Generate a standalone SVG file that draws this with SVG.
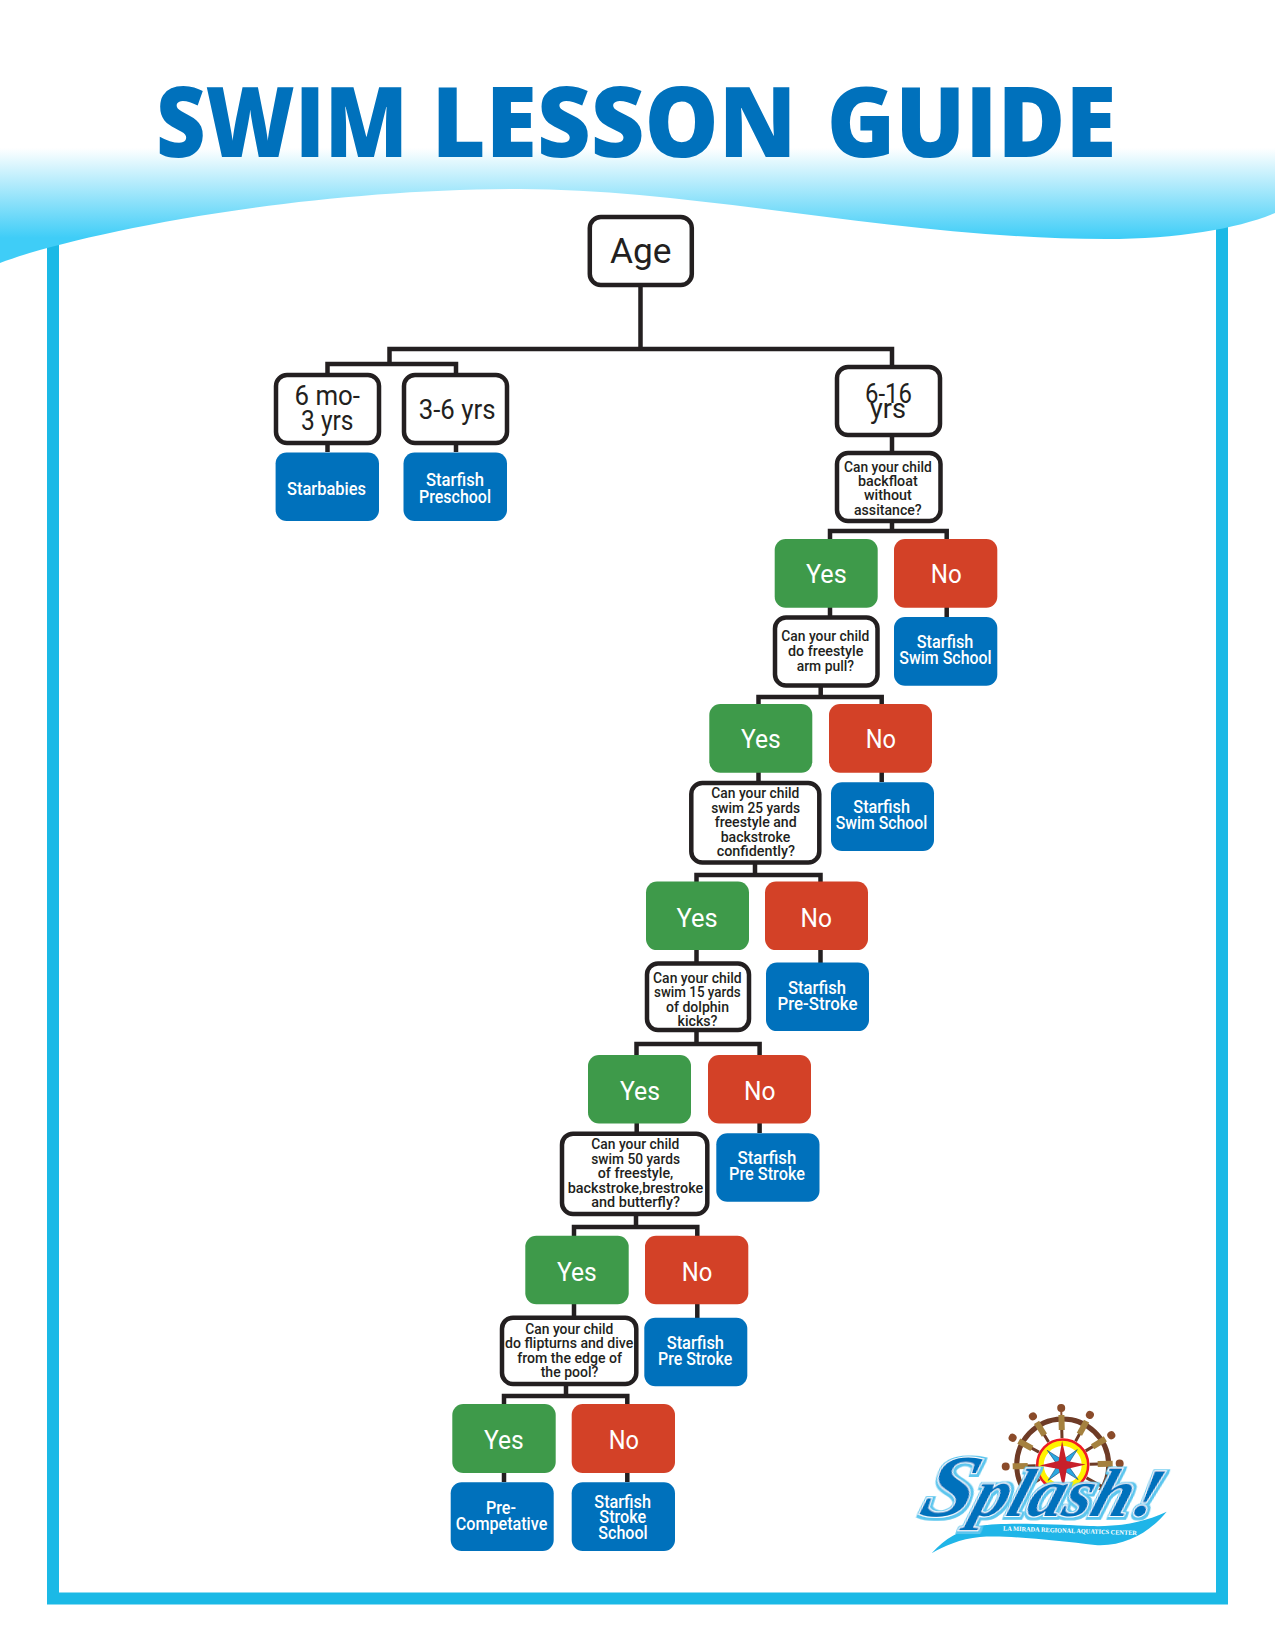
<svg xmlns="http://www.w3.org/2000/svg" width="1275" height="1650" viewBox="0 0 1275 1650">
<style>
text{font-family:Roboto,"Liberation Sans",sans-serif}
.q{fill:#fff;stroke:#231f20;stroke-width:4.5}
.b{fill:#0071bc}.y{fill:#3e9a4a}.n{fill:#d34127}
.c{fill:none;stroke:#231f20;stroke-width:4.5}
.tq{font-size:15.5px;fill:#231f20;font-weight:500}
.tb{font-size:17.5px;fill:#fff;font-weight:500}
.ta{font-size:26px;fill:#fff}
.tk{font-size:27px;fill:#231f20}
</style>
<defs>
<linearGradient id="w" gradientUnits="userSpaceOnUse" x1="0" y1="148" x2="0" y2="238"><stop offset="0" stop-color="#fff"/><stop offset="1" stop-color="#3fcdf7"/></linearGradient>
<clipPath id="wc"><rect x="980" y="1400" width="170" height="90"/></clipPath>
<filter id="sh" x="-10%" y="-20%" width="120%" height="140%"><feMorphology in="SourceAlpha" operator="dilate" radius="1.6"/><feOffset dx="1" dy="1" result="o"/><feFlood flood-color="#5cc6ee"/><feComposite in2="o" operator="in" result="f"/><feMerge><feMergeNode in="f"/><feMergeNode in="SourceGraphic"/></feMerge></filter>
</defs>
<path id="frame" d="M53 230V1598.500H1222V215" fill="none" stroke="#1bb9e6" stroke-width="12"/>
<path id="wave" d="M0 148H1275V213C1240 228 1180 239 1106 239C900 239 700 189 520 189C290 189 70 236 0 263Z" fill="url(#w)"/>
<text id="title" y="157" style="font-family:'Open Sans','Liberation Sans',sans-serif;font-weight:800;font-size:98px;fill:#0071bc"><tspan x="156" textLength="252" lengthAdjust="spacingAndGlyphs">SWIM</tspan> <tspan x="431.600" textLength="365" lengthAdjust="spacingAndGlyphs">LESSON</tspan> <tspan x="826.700" textLength="289.500" lengthAdjust="spacingAndGlyphs">GUIDE</tspan></text>
<g id="connectors">
<path class="c" d="M640.500 287V349M389.500 363V349H892V366M327.500 373V364H456V373"/>
<path class="c" d="M327.500 444V452M456 444V452M892 435V451M892 523V531M830 539V531H946.700V539M830 607V616M946.700 607V617"/>
<path class="c" d="M820.700 687V697M758.500 704V697H881.700V704M758.500 772V781M881.700 772V782"/>
<path class="c" d="M755 864V875M696.500 882V875H820.500V882M696.500 950V962M820.500 950V963"/>
<path class="c" d="M696.500 1032V1044M636.500 1055V1044H759.600V1055M636.700 1123V1132M759.600 1123V1133"/>
<path class="c" d="M636 1216V1227M574 1236V1227H697.300V1236M574 1304V1317M697.300 1304V1318"/>
<path class="c" d="M566 1386V1396M504 1404V1396H627.300V1404M504 1473V1482M627.300 1473V1482"/>
</g>
<g id="age"><rect class="q" x="589.800" y="217" width="102" height="68" rx="11"/><text x="610" y="263" textLength="61.500" lengthAdjust="spacingAndGlyphs" style="font-size:35px;fill:#231f20">Age</text></g>
<g id="k1"><rect class="q" x="276" y="375" width="103" height="68" rx="11"/><text class="tk" x="294.500" y="405" textLength="65.500" lengthAdjust="spacingAndGlyphs">6 mo-</text><text class="tk" x="301" y="430" textLength="52.500" lengthAdjust="spacingAndGlyphs">3 yrs</text></g>
<g id="k2"><rect class="q" x="404" y="375" width="103" height="68" rx="11"/><text class="tk" x="418.700" y="418.500" textLength="76.800" lengthAdjust="spacingAndGlyphs">3-6 yrs</text></g>
<g id="k3"><rect class="q" x="837" y="367" width="103" height="68" rx="11"/><text class="tk" x="865" y="403" textLength="47" lengthAdjust="spacingAndGlyphs">6-16</text><text class="tk" x="870" y="418" textLength="36" lengthAdjust="spacingAndGlyphs">yrs</text></g>
<g id="r1"><rect class="b" x="275.600" y="452.500" width="103.400" height="68.500" rx="11"/><text class="tb" x="287" y="494.500" textLength="79" lengthAdjust="spacingAndGlyphs">Starbabies</text></g>
<g id="r2"><rect class="b" x="403.500" y="452.500" width="103.500" height="68.500" rx="11"/><text class="tb" x="426" y="486" textLength="58" lengthAdjust="spacingAndGlyphs">Starfish</text><text class="tb" x="419" y="503" textLength="72" lengthAdjust="spacingAndGlyphs">Preschool</text></g>
<g id="q1"><rect class="q" x="837" y="453" width="103.500" height="68" rx="11"/>
<text class="tq" x="844" y="471.700" textLength="87.700" lengthAdjust="spacingAndGlyphs">Can your child</text><text class="tq" x="858" y="486" textLength="59.700" lengthAdjust="spacingAndGlyphs">backfloat</text><text class="tq" x="864" y="500.300" textLength="47.700" lengthAdjust="spacingAndGlyphs">without</text><text class="tq" x="854" y="515" textLength="67.700" lengthAdjust="spacingAndGlyphs">assitance?</text></g>
<g id="y1"><rect class="y" x="774.700" y="539" width="103" height="68.700" rx="11"/><text class="ta" x="806" y="583.300" textLength="40.700" lengthAdjust="spacingAndGlyphs">Yes</text></g>
<g id="n1"><rect class="n" x="894" y="539" width="103.300" height="68.700" rx="11"/><text class="ta" x="930.700" y="583.300" textLength="31" lengthAdjust="spacingAndGlyphs">No</text></g>
<g id="r3"><rect class="b" x="894" y="617" width="103.300" height="68.700" rx="11"/><text class="tb" x="916.700" y="648.300" textLength="56.600" lengthAdjust="spacingAndGlyphs">Starfish</text><text class="tb" x="899.300" y="664.300" textLength="92.400" lengthAdjust="spacingAndGlyphs">Swim School</text></g>
<g id="q2"><rect class="q" x="775" y="617.500" width="102.500" height="68" rx="11"/><text class="tq" x="781.300" y="641.300" textLength="88" lengthAdjust="spacingAndGlyphs">Can your child</text><text class="tq" x="788" y="656.300" textLength="75.300" lengthAdjust="spacingAndGlyphs">do freestyle</text><text class="tq" x="796.700" y="670.700" textLength="57.300" lengthAdjust="spacingAndGlyphs">arm pull?</text></g>
<g id="y2"><rect class="y" x="709.300" y="704" width="103" height="68.700" rx="11"/><text class="ta" x="741" y="748.300" textLength="39.700" lengthAdjust="spacingAndGlyphs">Yes</text></g>
<g id="n2"><rect class="n" x="829" y="704" width="103" height="68.700" rx="11"/><text class="ta" x="865.700" y="748.300" textLength="30.300" lengthAdjust="spacingAndGlyphs">No</text></g>
<g id="r4"><rect class="b" x="831" y="782.300" width="103" height="68.700" rx="11"/><text class="tb" x="853.300" y="813.300" textLength="56.700" lengthAdjust="spacingAndGlyphs">Starfish</text><text class="tb" x="835.700" y="829.300" textLength="91.600" lengthAdjust="spacingAndGlyphs">Swim School</text></g>
<g id="q3"><rect class="q" x="691.300" y="783" width="128" height="79.500" rx="11"/><text class="tq" x="711.300" y="798.300" textLength="88" lengthAdjust="spacingAndGlyphs">Can your child</text><text class="tq" x="711.300" y="813.300" textLength="88.700" lengthAdjust="spacingAndGlyphs">swim 25 yards</text><text class="tq" x="714.700" y="827.300" textLength="82" lengthAdjust="spacingAndGlyphs">freestyle and</text><text class="tq" x="720.700" y="842" textLength="69.600" lengthAdjust="spacingAndGlyphs">backstroke</text><text class="tq" x="716.700" y="856" textLength="78.300" lengthAdjust="spacingAndGlyphs">confidently?</text></g>
<g id="y3"><rect class="y" x="646" y="881.600" width="103" height="68.500" rx="11"/><text class="ta" x="676.500" y="927" textLength="41" lengthAdjust="spacingAndGlyphs">Yes</text></g>
<g id="n3"><rect class="n" x="765" y="881.600" width="103" height="68.500" rx="11"/><text class="ta" x="800.500" y="927" textLength="31.500" lengthAdjust="spacingAndGlyphs">No</text></g>
<g id="r5"><rect class="b" x="766" y="962.600" width="103" height="68.500" rx="11"/><text class="tb" x="788" y="994" textLength="58" lengthAdjust="spacingAndGlyphs">Starfish</text><text class="tb" x="777.500" y="1010" textLength="80" lengthAdjust="spacingAndGlyphs">Pre-Stroke</text></g>
<g id="q4"><rect class="q" x="647" y="963.500" width="102" height="66.500" rx="11"/><text class="tq" x="653" y="982.600" textLength="88.700" lengthAdjust="spacingAndGlyphs">Can your child</text><text class="tq" x="654" y="997" textLength="86.600" lengthAdjust="spacingAndGlyphs">swim 15 yards</text><text class="tq" x="666" y="1012" textLength="63" lengthAdjust="spacingAndGlyphs">of dolphin</text><text class="tq" x="677.500" y="1026" textLength="40" lengthAdjust="spacingAndGlyphs">kicks?</text></g>
<g id="y4"><rect class="y" x="588" y="1055" width="103" height="68.500" rx="11"/><text class="ta" x="620" y="1100" textLength="40" lengthAdjust="spacingAndGlyphs">Yes</text></g>
<g id="n4"><rect class="n" x="708" y="1055" width="103" height="68.500" rx="11"/><text class="ta" x="744" y="1100" textLength="31.500" lengthAdjust="spacingAndGlyphs">No</text></g>
<g id="r6"><rect class="b" x="716.300" y="1133.300" width="103.200" height="68.400" rx="11"/><text class="tb" x="737.500" y="1163.500" textLength="58.900" lengthAdjust="spacingAndGlyphs">Starfish</text><text class="tb" x="729" y="1180" textLength="76" lengthAdjust="spacingAndGlyphs">Pre Stroke</text></g>
<g id="q5"><rect class="q" x="562" y="1133.700" width="145.300" height="80.300" rx="11"/><text class="tq" x="591.300" y="1149" textLength="88" lengthAdjust="spacingAndGlyphs">Can your child</text><text class="tq" x="591.300" y="1164" textLength="88.700" lengthAdjust="spacingAndGlyphs">swim 50 yards</text><text class="tq" x="597.700" y="1178.300" textLength="75.600" lengthAdjust="spacingAndGlyphs">of freestyle,</text><text class="tq" x="567.700" y="1193" textLength="135.600" lengthAdjust="spacingAndGlyphs">backstroke,brestroke</text><text class="tq" x="591.300" y="1207.300" textLength="88.700" lengthAdjust="spacingAndGlyphs">and butterfly?</text></g>
<g id="y5"><rect class="y" x="525.300" y="1235.700" width="103.400" height="68.600" rx="11"/><text class="ta" x="557" y="1280.700" textLength="39.700" lengthAdjust="spacingAndGlyphs">Yes</text></g>
<g id="n5"><rect class="n" x="645" y="1235.700" width="103.300" height="68.600" rx="11"/><text class="ta" x="681.700" y="1280.700" textLength="30.600" lengthAdjust="spacingAndGlyphs">No</text></g>
<g id="r7"><rect class="b" x="644.300" y="1317.700" width="103" height="68.600" rx="11"/><text class="tb" x="666.700" y="1349.300" textLength="57.300" lengthAdjust="spacingAndGlyphs">Starfish</text><text class="tb" x="658" y="1365.300" textLength="74.300" lengthAdjust="spacingAndGlyphs">Pre Stroke</text></g>
<g id="q6"><rect class="q" x="502" y="1317.700" width="134.300" height="66.300" rx="11"/><text class="tq" x="525.300" y="1334.300" textLength="88" lengthAdjust="spacingAndGlyphs">Can your child</text><text class="tq" x="505" y="1348.300" textLength="128.300" lengthAdjust="spacingAndGlyphs">do flipturns and dive</text><text class="tq" x="517.300" y="1363.300" textLength="104.700" lengthAdjust="spacingAndGlyphs">from the edge of</text><text class="tq" x="540.700" y="1377.300" textLength="57.600" lengthAdjust="spacingAndGlyphs">the pool?</text></g>
<g id="y6"><rect class="y" x="452.300" y="1404" width="103.400" height="69" rx="11"/><text class="ta" x="484" y="1448.700" textLength="39.700" lengthAdjust="spacingAndGlyphs">Yes</text></g>
<g id="n6"><rect class="n" x="571.700" y="1404" width="103.300" height="69" rx="11"/><text class="ta" x="608.700" y="1448.700" textLength="30.300" lengthAdjust="spacingAndGlyphs">No</text></g>
<g id="r8"><rect class="b" x="450.700" y="1482.300" width="103" height="68.700" rx="11"/><text class="tb" x="486" y="1514" textLength="30" lengthAdjust="spacingAndGlyphs">Pre-</text><text class="tb" x="455.700" y="1530" textLength="91.600" lengthAdjust="spacingAndGlyphs">Competative</text></g>
<g id="r9"><rect class="b" x="571.700" y="1482.300" width="103.300" height="68.700" rx="11"/><text class="tb" x="594.300" y="1508.300" textLength="56.700" lengthAdjust="spacingAndGlyphs">Starfish</text><text class="tb" x="599.300" y="1523.300" textLength="47" lengthAdjust="spacingAndGlyphs">Stroke</text><text class="tb" x="598.300" y="1539" textLength="49.400" lengthAdjust="spacingAndGlyphs">School</text></g>
<g id="logo">
<g clip-path="url(#wc)">
<g transform="translate(1062.700 1465) rotate(-1.500)">
<circle r="46" fill="none" stroke="#6e3b26" stroke-width="5"/>
<path stroke="#6e3b26" stroke-width="3" d="M27 0H46M-27 0H-46M0 -27V-46M0 27V46M23.400 -13.500L39.800 -23M-23.400 -13.500L-39.800 -23M13.500 -23.400L23 -39.800M-13.500 -23.400L-23 -39.800M23.400 13.500L39.800 23M-23.400 13.500L-39.800 23"/>
<g fill="#a5813f"><rect x="-3" y="-50" width="6" height="15"/><rect x="-3" y="-50" width="6" height="15" transform="rotate(30)"/><rect x="-3" y="-50" width="6" height="15" transform="rotate(60)"/><rect x="-3" y="-50" width="6" height="15" transform="rotate(90)"/><rect x="-3" y="-50" width="6" height="15" transform="rotate(-30)"/><rect x="-3" y="-50" width="6" height="15" transform="rotate(-60)"/><rect x="-3" y="-50" width="6" height="15" transform="rotate(-90)"/></g>
<path stroke="#8a4b2a" stroke-width="2" d="M0 -50V-55"/>
<g fill="#8a4b2a"><circle cy="-57" r="4"/><circle cy="-57" r="4" transform="rotate(30)"/><circle cy="-57" r="4" transform="rotate(60)"/><circle cy="-57" r="4" transform="rotate(90)"/><circle cy="-57" r="4" transform="rotate(-30)"/><circle cy="-57" r="4" transform="rotate(-60)"/><circle cy="-57" r="4" transform="rotate(-90)"/></g>
<circle r="25.500" fill="#fff200" stroke="#ed1c24" stroke-width="2.500"/>
<circle r="19" fill="#fff"/>
<path d="M-15 -15L0 -5L15 -15L5 0L15 15L0 5L-15 15L-5 0Z" fill="#2aa9e0" stroke="#1b3f73" stroke-width=".6"/>
<path d="M0 -24L4 -4L23 0L4 4L0 24L-4 4L-23 0L-4 -4Z" fill="#c8202a"/>
</g>
</g>
<path d="M931.700 1553.300C945 1538 960 1530 980 1526C1000 1522 1050 1524 1090 1526C1120 1527 1145 1522 1166.700 1511.700C1150 1532 1125 1547 1095 1545C1060 1541 1010 1535 980 1537C960 1539 944 1546 931.700 1553.300Z" fill="#1fb5e8"/>
<text transform="translate(917 1516) skewX(-18)" filter="url(#sh)" textLength="238" lengthAdjust="spacingAndGlyphs" style="font-family:'Liberation Serif',serif;font-style:italic;font-weight:700;font-size:68px;fill:#0071bc;stroke:#fff;stroke-width:2;paint-order:stroke"><tspan font-size="88">S</tspan>plash!</text>
<text transform="translate(1003 1530.500) rotate(2)" textLength="134" lengthAdjust="spacingAndGlyphs" style="font-family:'Liberation Serif',serif;font-size:6.500px;fill:#fff;font-weight:700">LA MIRADA REGIONAL AQUATICS CENTER</text>
</g>
</svg>
